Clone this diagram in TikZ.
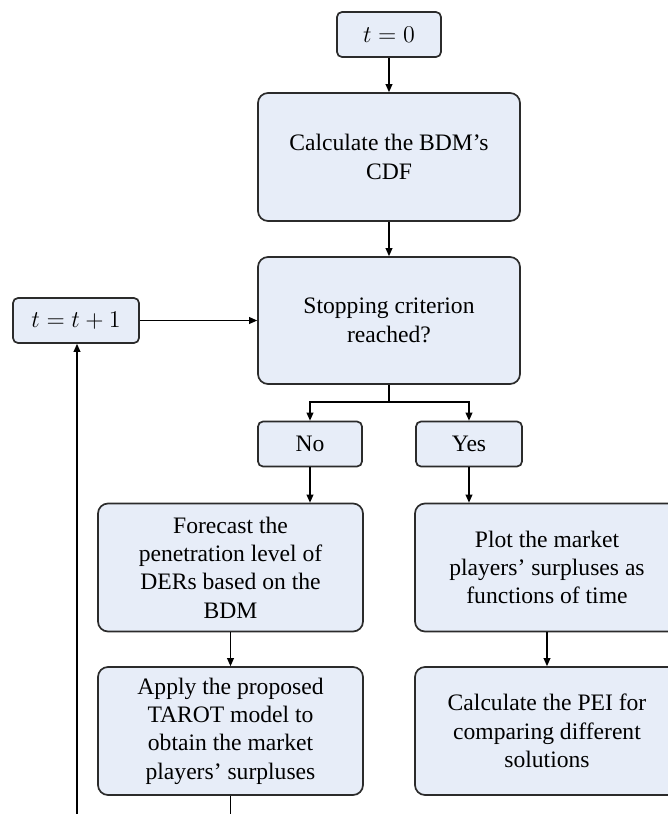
\documentclass[tikz,border=0pt]{standalone}
\usepackage{fontspec}
\setmainfont{LiberationSerif}[Extension=.ttf, UprightFont=*-Regular, BoldFont=*-Bold,
  ItalicFont=*-Italic, BoldItalicFont=*-BoldItalic]
\usetikzlibrary{arrows.meta}
\definecolor{boxfill}{HTML}{E7EDF8}
\definecolor{boxline}{HTML}{2B2B2B}
\tikzset{
  bigbox/.style={draw=boxline, fill=boxfill, line width=0.85pt, rounded corners=5pt,
    align=center, inner sep=0pt, minimum width=132pt, minimum height=64pt,
    font=\fontsize{11.8}{14.2}\selectfont},
  smallbox/.style={draw=boxline, fill=boxfill, line width=0.85pt, rounded corners=2.5pt,
    align=center, inner sep=0pt, minimum height=22.5pt,
    font=\fontsize{11.8}{14.2}\selectfont},
  flow/.style={draw=black, line width=0.6pt},
  arr/.style={flow, -{Triangle[length=4pt,width=3.4pt]}}
}
\begin{document}
\begin{tikzpicture}[x=0.5pt, y=-0.5pt]
  \useasboundingbox (0,0) rectangle (668,814);
  \clip (0,0) rectangle (668,814);

  % main column
  \node[smallbox, minimum width=52pt] (start) at (389,34.5) {$t=0$};
  \node[bigbox, minimum width=131pt] (cdf) at (389,157) {Calculate the BDM's\\CDF};
  \node[bigbox, minimum width=131pt, minimum height=63.5pt] (stop) at (389,320.5)
    {Stopping criterion\\reached?};
  \node[smallbox, minimum width=63pt] (inc) at (76,320.5) {$t=t+1$};

  % decision outcomes
  \node[smallbox, minimum width=52pt] (no) at (310,444) {No};
  \node[smallbox, minimum width=53pt] (yes) at (469,444) {Yes};

  % "No" branch
  \node[bigbox, minimum width=132.5pt] (forecast) at (230.5,567.5)
    {Forecast the\\penetration level of\\DERs based on the\\BDM};
  \node[bigbox, minimum width=132.5pt] (apply) at (230.5,731)
    {Apply the proposed\\TAROT model to\\obtain the market\\players' surpluses};

  % "Yes" branch
  \node[bigbox, minimum width=132pt] (plot) at (547,567.5)
    {Plot the market\\players' surpluses as\\functions of time};
  \node[bigbox, minimum width=132pt] (pei) at (547,731)
    {Calculate the PEI for\\comparing different\\solutions};

  % connectors
  \coordinate (split) at (389,402);
  \coordinate (loopin) at (77,814);
  \coordinate (out) at (230.5,814);

  \draw[arr] (start) -- (cdf);
  \draw[arr] (cdf) -- (stop);
  \draw[arr] (inc) -- (stop);
  \draw[flow] (stop.south) -- (split);
  \draw[arr] (split) -| (no.north);
  \draw[arr] (split) -| (yes.north);
  \draw[arr] (no.south) -- (no.south |- forecast.north);
  \draw[arr] (forecast) -- (apply);
  \draw[arr] (yes.south) -- (yes.south |- plot.north);
  \draw[arr] (plot) -- (pei);
  \draw[flow] (apply.south) -- (out);
  \draw[arr] (loopin) -- (loopin |- inc.south);
\end{tikzpicture}
\end{document}
